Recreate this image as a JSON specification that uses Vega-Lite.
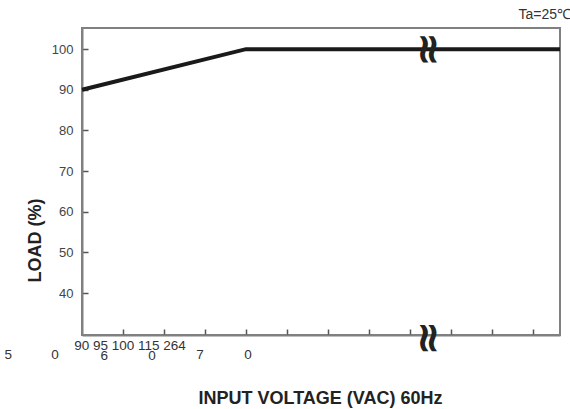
{
  "$schema": "https://vega.github.io/schema/vega-lite/v6.json",
  "description": "Load vs input voltage derating curve",
  "width": 478,
  "height": 307,
  "autosize": {"type": "none"},
  "padding": {"left": 82, "top": 28, "right": 10, "bottom": 74},
  "title": {
    "text": "Ta=25℃",
    "anchor": "end",
    "fontSize": 14,
    "fontWeight": "normal",
    "font": "Liberation Sans",
    "color": "#333",
    "offset": 6,
    "dx": 3
  },
  "datasets": {
    "curve": [
      {"v": 0, "load": 90},
      {"v": 4, "load": 100},
      {"v": 11.66, "load": 100}
    ],
    "labels": [
      {"v": 1.17, "load": 27.0, "label": "90 95 100 115 264"},
      {"v": -1.8, "load": 24.8, "label": "5"},
      {"v": -0.66, "load": 24.8, "label": "0"},
      {"v": 0.54, "load": 24.6, "label": "6"},
      {"v": 1.71, "load": 24.6, "label": "0"},
      {"v": 2.88, "load": 24.8, "label": "7"},
      {"v": 4.05, "load": 24.8, "label": "0"}
    ],
    "breaks": [
      {"v": 8.44, "load": 100},
      {"v": 8.44, "load": 29.0}
    ]
  },
  "layer": [
    {
      "data": {"name": "curve"},
      "mark": {"type": "line", "color": "#1a1a1a", "strokeWidth": 4},
      "encoding": {
        "x": {
          "field": "v",
          "type": "quantitative",
          "scale": {"domain": [0, 11.66], "nice": false, "zero": false},
          "axis": {
            "values": [1, 2, 3, 4, 5, 6, 7, 8, 9, 10, 11],
            "labels": false,
            "grid": false,
            "tickSize": -6,
            "tickColor": "#555",
            "tickWidth": 1.5,
            "domainColor": "#808080",
            "domainWidth": 2,
            "title": "INPUT VOLTAGE (VAC) 60Hz",
            "titleFont": "Liberation Sans",
            "titleFontSize": 18,
            "titleFontWeight": "bold",
            "titleColor": "#222",
            "titleBaseline": "middle",
            "titleY": 63,
            "titleX": 238
          }
        },
        "y": {
          "field": "load",
          "type": "quantitative",
          "scale": {"domain": [29.7, 105.2], "nice": false, "zero": false},
          "axis": {
            "values": [40, 50, 60, 70, 80, 90, 100],
            "grid": false,
            "tickSize": -6,
            "tickColor": "#555",
            "tickWidth": 1.5,
            "labelPadding": 15,
            "labelFont": "Liberation Sans",
            "labelFontSize": 13,
            "labelColor": "#444",
            "domainColor": "#808080",
            "domainWidth": 2,
            "title": "LOAD (%)",
            "titleFont": "Liberation Sans",
            "titleFontSize": 18,
            "titleFontWeight": "bold",
            "titleColor": "#222",
            "titleAngle": -90,
            "titleAlign": "center",
            "titleBaseline": "middle",
            "titleX": -47,
            "titleY": 212
          }
        }
      }
    },
    {
      "data": {"name": "labels"},
      "mark": {
        "type": "text",
        "font": "Liberation Sans",
        "fontSize": 13.5,
        "color": "#333",
        "align": "center",
        "baseline": "middle"
      },
      "encoding": {
        "x": {"field": "v", "type": "quantitative"},
        "y": {"field": "load", "type": "quantitative"},
        "text": {"field": "label"}
      }
    },
    {
      "data": {"name": "breaks"},
      "mark": {
        "type": "text",
        "text": "≈",
        "font": "DejaVu Sans",
        "fontWeight": "bold",
        "fontSize": 42,
        "angle": 90,
        "color": "#222",
        "align": "center",
        "baseline": "middle"
      },
      "encoding": {
        "x": {"field": "v", "type": "quantitative"},
        "y": {"field": "load", "type": "quantitative"}
      }
    }
  ],
  "config": {
    "view": {"stroke": "#808080", "strokeWidth": 2}
  }
}
